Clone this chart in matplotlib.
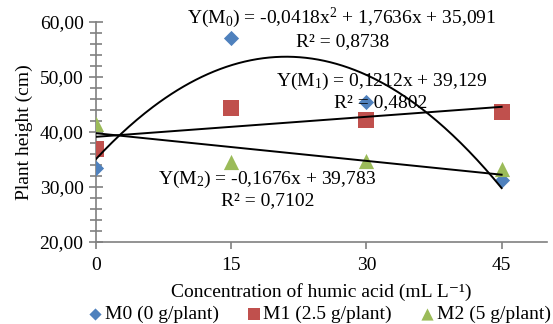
import numpy as np
import matplotlib
matplotlib.use("Agg")
import matplotlib.pyplot as plt
from matplotlib.ticker import MultipleLocator, FuncFormatter

plt.rcParams['font.family'] = ['Liberation Serif', 'DejaVu Serif']
plt.rcParams['mathtext.fontset'] = 'custom'
plt.rcParams['mathtext.rm'] = 'Liberation Serif'
plt.rcParams['mathtext.it'] = 'Liberation Serif'

x = [0, 15, 30, 45]
m0 = [33.5, 57.1, 45.5, 31.3]
m1 = [36.9, 44.4, 42.1, 43.7]
m2 = [41.4, 34.5, 34.7, 33.2]
labels = ['M0 (0 g/plant)', 'M1 (2.5 g/plant)', 'M2 (5 g/plant)']
colors = ['#4F81BD', '#C0504D', '#9BBB59']

fit0 = [-0.0418, 1.7636, 35.091]
fit1 = [0.1212, 39.129]
fit2 = [-0.1676, 39.783]

fig = plt.figure(figsize=(5.53, 3.24), dpi=100)
ax = fig.add_axes([0.1736, 0.253, 0.815, 0.679])

ax.scatter(x, m0, marker='D', s=60, color=colors[0], label=labels[0], zorder=3, linewidths=0)
ax.scatter(x, m1, marker='s', s=130, color=colors[1], label=labels[1], zorder=3, linewidths=0)
ax.scatter(x, m2, marker='^', s=120, color=colors[2], label=labels[2], zorder=3, linewidths=0)

xs = np.linspace(0, 45, 200)
ax.plot(xs, np.polyval(fit0, xs), color='black', lw=1.4, zorder=4)
ax.plot(xs, np.polyval(fit1, xs), color='black', lw=1.4, zorder=4)
ax.plot(xs, np.polyval(fit2, xs), color='black', lw=1.4, zorder=4)

ax.set_xlim(0, 50)
ax.set_ylim(20, 60)
ax.set_xticks([0, 15, 30, 45])
ax.yaxis.set_major_locator(MultipleLocator(10))
ax.yaxis.set_minor_locator(MultipleLocator(2))
ax.yaxis.set_major_formatter(FuncFormatter(lambda v, p: f"{v:.2f}".replace('.', ',')))
ax.tick_params(axis='y', which='both', direction='inout', color='#808080', width=1.2, labelsize=14, pad=4)
ax.tick_params(axis='y', which='major', length=10)
ax.tick_params(axis='y', which='minor', length=8)
ax.tick_params(axis='x', direction='out', color='#808080', width=1.2, length=5, labelsize=14, pad=6)
for s in ['top', 'right']:
    ax.spines[s].set_visible(False)
for s in ['left', 'bottom']:
    ax.spines[s].set_color('#808080')
    ax.spines[s].set_linewidth(1.2)

ax.set_ylabel('Plant height (cm)', fontsize=14, labelpad=5)
ax.set_xlabel('Concentration of humic acid (mL L⁻¹)', fontsize=14, labelpad=6)

fs = 14
ax.text(27.3, 60.7, 'Y(M$_0$) = -0,0418x$^2$ + 1,7636x + 35,091', ha='center', va='center', fontsize=fs)
ax.text(27.4, 56.4, 'R² = 0,8738', ha='center', va='center', fontsize=fs)
ax.text(31.7, 49.2, 'Y(M$_1$) = 0,1212x + 39,129', ha='center', va='center', fontsize=fs)
ax.text(31.6, 45.4, 'R² = 0,4802', ha='center', va='center', fontsize=fs)
ax.text(19.0, 31.3, 'Y(M$_2$) = -0,1676x + 39,783', ha='center', va='center', fontsize=fs)
ax.text(19.0, 27.6, 'R² = 0,7102', ha='center', va='center', fontsize=fs)

fig.legend(loc='center', bbox_to_anchor=(0.575, 0.03), ncol=3, frameon=False,
           fontsize=14, handletextpad=0.0, columnspacing=1.3, borderpad=0, markerscale=0.8,
           handlelength=1.0)

fig.savefig('out.png', dpi=100)
